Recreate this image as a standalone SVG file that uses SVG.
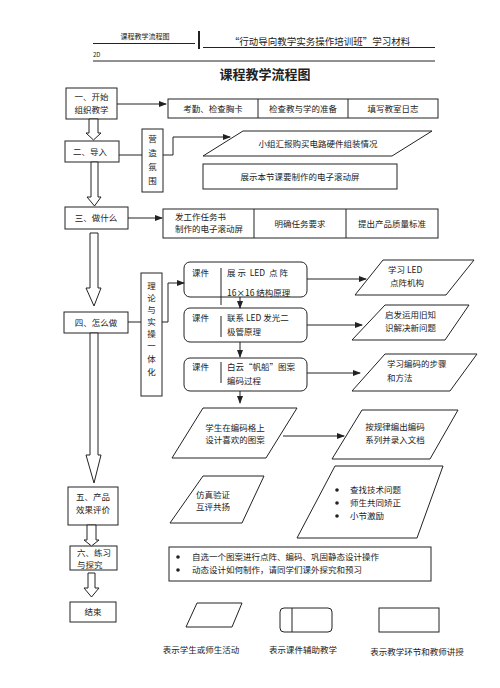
<svg xmlns="http://www.w3.org/2000/svg" width="500" height="688" viewBox="0 0 500 688">
<defs>
<marker id="ah" markerWidth="8" markerHeight="6" refX="7" refY="3" orient="auto" markerUnits="userSpaceOnUse">
<path d="M0,0 L8,3 L0,6 Z" fill="#222"/>
</marker>
<style>
text{font-family:"Noto Sans CJK SC","Noto Sans",sans-serif;fill:#222;font-size:8.5px}
.c{text-anchor:middle}
.b{fill:#fff;stroke:#222;stroke-width:1}
.l{fill:none;stroke:#222;stroke-width:1}
.ha{fill:#fff;stroke:#222;stroke-width:1}
.s{font-size:7px}
</style>
</defs>
<rect width="500" height="688" fill="#fff"/>
<!-- header -->
<g id="header">
<line x1="93" y1="43.5" x2="195" y2="43.5" class="l"/>
<text x="145" y="39" class="c s">课程教学流程图</text>
<line x1="199" y1="31" x2="199" y2="49" stroke="#222" stroke-width="2"/>
<line x1="203" y1="47.5" x2="435" y2="47.5" class="l"/>
<text x="320" y="45" class="c" style="font-size:9.5px">“行动导向教学实务操作培训班”学习材料</text>
<text x="93" y="57" class="s" style="font-size:6px">2D</text>
<line x1="93" y1="61" x2="435" y2="61" class="l"/>
<text x="265" y="79" class="c" style="font-size:13px;font-weight:bold">课程教学流程图</text>
</g>
<!-- left column nodes -->
<g id="n1"><rect x="66" y="88" width="51" height="31" class="b"/>
<text x="91.5" y="100" class="c">一、开始</text><text x="91.5" y="113" class="c">组织教学</text></g>
<g id="n2"><rect x="65" y="141" width="54" height="21" class="b"/>
<text x="90" y="155" class="c">二、导入</text></g>
<g id="n3"><rect x="65" y="207" width="63" height="22" class="b"/>
<text x="96" y="221" class="c">三、做什么</text></g>
<g id="n4"><rect x="64" y="312" width="64" height="21" class="b"/>
<text x="96" y="326" class="c">四、怎么做</text></g>
<g id="n5"><rect x="68" y="487" width="50" height="38" class="b"/>
<text x="93" y="500" class="c">五、产品</text><text x="93" y="513" class="c">效果评价</text></g>
<g id="n6"><rect x="70" y="546" width="47" height="24" class="b"/>
<text x="77" y="556">六、练习</text><text x="77" y="568">与探究</text></g>
<g id="n7"><rect x="70" y="602" width="46" height="20" class="b"/>
<text x="93" y="615" class="c">结束</text></g>
<!-- row 1 -->
<g id="r1"><rect x="168" y="99" width="270" height="19" class="b"/>
<line x1="258" y1="99" x2="258" y2="118" class="l"/><line x1="348" y1="99" x2="348" y2="118" class="l"/>
<text x="213" y="112" class="c">考勤、检查胸卡</text><text x="303" y="112" class="c">检查教与学的准备</text><text x="393" y="112" class="c">填写教室日志</text></g>
<!-- intro -->
<g id="v1"><rect x="142" y="129" width="21" height="63" class="b"/>
<text x="152.5" y="142" class="c">营</text><text x="152.5" y="156" class="c">造</text><text x="152.5" y="170" class="c">氛</text><text x="152.5" y="184" class="c">围</text></g>
<g id="p1"><polygon points="243,131 432,131 392,156 203,156" class="b"/>
<text x="318" y="147" class="c">小组汇报购买电路硬件组装情况</text></g>
<g id="r2"><rect x="203" y="164" width="194" height="25" class="b"/>
<text x="300" y="180" class="c">展示本节课要制作的电子滚动屏</text></g>
<!-- row 3 -->
<g id="r3"><rect x="163" y="209" width="275" height="29" class="b"/>
<line x1="254" y1="209" x2="254" y2="238" class="l"/><line x1="346" y1="209" x2="346" y2="238" class="l"/>
<text x="175" y="220">发工作任务书</text><text x="175" y="232">制作的电子滚动屏</text>
<text x="300" y="227" class="c">明确任务要求</text><text x="392" y="227" class="c">提出产品质量标准</text></g>
<!-- section 4 -->
<g id="v2"><rect x="141" y="273" width="21" height="123" class="b"/>
<text x="151.5" y="289" class="c">理</text><text x="151.5" y="301" class="c">论</text><text x="151.5" y="313" class="c">与</text><text x="151.5" y="325" class="c">实</text><text x="151.5" y="337" class="c">操</text><text x="151.5" y="349" class="c">一</text><text x="151.5" y="362" class="c">体</text><text x="151.5" y="375" class="c">化</text></g>
<g id="ca"><rect x="184" y="262" width="123" height="35" rx="6" class="b"/>
<line x1="221" y1="268" x2="221" y2="305" class="l"/>
<text x="192" y="276">课件</text><text x="227" y="276" xml:space="preserve">展 示  LED  点 阵</text>
<text x="227" y="296">16×16 结构原理</text></g>
<g id="cb"><rect x="184" y="308" width="123" height="34" rx="6" class="b"/>
<line x1="221" y1="316" x2="221" y2="337" class="l"/>
<text x="192" y="321">课件</text><text x="227" y="321" xml:space="preserve">联系 LED 发光二</text><text x="227" y="335">极管原理</text></g>
<g id="cc"><rect x="184" y="358" width="123" height="33" rx="6" class="b"/>
<line x1="221" y1="362" x2="221" y2="383" class="l"/>
<text x="192" y="370">课件</text><text x="227" y="370">白云“帆船”图案</text><text x="227" y="384">编码过程</text></g>
<g id="pa"><polygon points="383,260 474,260 446,295 355,295" class="b"/>
<text x="388" y="273">学习 LED</text><text x="390" y="286">点阵机构</text></g>
<g id="pb"><polygon points="385,305 469,305 445,340 352,340" class="b"/>
<text x="385" y="318">启发运用旧知</text><text x="385" y="331">识解决新问题</text></g>
<g id="pc"><polygon points="385,354 477,354 450,391 352,391" class="b"/>
<text x="387" y="367">学习编码的步骤</text><text x="387" y="381">和方法</text></g>
<g id="pd"><polygon points="203,408 297,408 266,458 172,458" class="b"/>
<text x="235" y="431" class="c">学生在编码格上</text><text x="235" y="443" class="c">设计喜欢的图案</text></g>
<g id="pe"><polygon points="362,410 458,410 430,459 332,459" class="b"/>
<text x="395" y="430" class="c">按规律编出编码</text><text x="395" y="443" class="c">系列并录入文档</text></g>
<g id="pf"><polygon points="203,476 264,476 242,523 170,523" class="b"/>
<text x="196" y="498">仿真验证</text><text x="196" y="510">互评共扬</text></g>
<g id="pg"><polygon points="335,466 443,466 417,538 297,538" class="b"/>
<circle cx="337" cy="490" r="1.8" fill="#222"/><text x="350" y="493">查找技术问题</text>
<circle cx="337" cy="503" r="1.8" fill="#222"/><text x="350" y="506">师生共同矫正</text>
<circle cx="337" cy="516" r="1.8" fill="#222"/><text x="350" y="519">小节激励</text></g>
<g id="r6"><rect x="169" y="547" width="262" height="34" class="b"/>
<circle cx="178" cy="557" r="1.8" fill="#222"/><text x="192" y="560">自选一个图案进行点阵、编码、巩固静态设计操作</text>
<circle cx="178" cy="570" r="1.8" fill="#222"/><text x="192" y="573">动态设计如何制作，请同学们课外探究和预习</text></g>
<!-- legend -->
<g id="legend">
<polygon points="197,603 242,603 232,627 186,627" class="b"/>
<rect x="280" y="608" width="52" height="24" rx="4" class="b"/>
<line x1="292" y1="608" x2="292" y2="632" class="l"/>
<rect x="379" y="608" width="60" height="24" class="b"/>
<text x="201" y="653" class="c">表示学生或师生活动</text>
<text x="303" y="653" class="c">表示课件辅助教学</text>
<text x="417" y="655" class="c">表示教学环节和教师讲授</text>
</g>
<!-- connectors -->
<g id="connectors">
<polygon class="ha" points="89,119 98,119 98,133 101,133 93.5,140 86,133 89,133"/>
<polygon class="ha" points="91,162 98,162 98,197 101,197 94.5,206 87,197 91,197"/>
<polygon class="ha" points="90,233 98,233 98,288 101,288 94,306 86,288 90,288"/>
<polygon class="ha" points="90,333 98,333 98,455 101,455 94,483 86,455 90,455"/>
<polygon class="ha" points="87,525 96,525 96,540 99,540 91.5,546 84,540 87,540"/>
<polygon class="ha" points="88,573 95,573 95,588 99,588 91.5,597 84,588 88,588"/>
<line x1="117" y1="104" x2="166" y2="104" class="l" marker-end="url(#ah)"/>
<line x1="119" y1="155" x2="142" y2="155" class="l"/>
<polyline points="163,155 173,155 173,137 230,137" class="l" marker-end="url(#ah)"/>
<line x1="128" y1="218" x2="162" y2="218" class="l" marker-end="url(#ah)"/>
<line x1="128" y1="322" x2="141" y2="322" class="l"/>
<polyline points="162,322 168,322 168,283 184,283" class="l" marker-end="url(#ah)"/>
<line x1="240" y1="297" x2="240" y2="308" class="l" marker-end="url(#ah)"/>
<line x1="240" y1="342" x2="240" y2="357" class="l" marker-end="url(#ah)"/>
<line x1="240" y1="391" x2="240" y2="403" class="l" marker-end="url(#ah)"/>
<line x1="307" y1="279" x2="366" y2="279" class="l" marker-end="url(#ah)"/>
<line x1="307" y1="325" x2="362" y2="325" class="l" marker-end="url(#ah)"/>
<line x1="307" y1="373" x2="360" y2="373" class="l" marker-end="url(#ah)"/>
<line x1="283" y1="436" x2="344" y2="436" class="l" marker-end="url(#ah)"/>
</g>
</svg>
